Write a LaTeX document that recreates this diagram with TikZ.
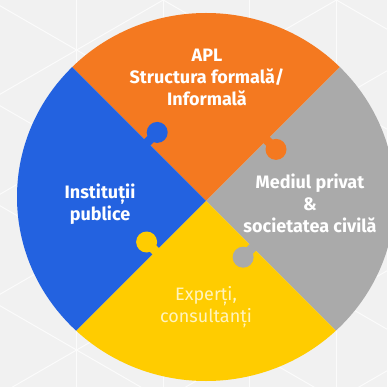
\documentclass[tikz,border=0pt]{standalone}
\usepackage{fontspec}
\setmainfont{Fira Sans}
\definecolor{bgc}{RGB}{241,241,241}
\definecolor{gridc}{RGB}{251,251,251}
\definecolor{org}{RGB}{244,121,32}
\definecolor{blu}{RGB}{35,98,224}
\definecolor{gry}{RGB}{170,170,170}
\definecolor{yel}{RGB}{255,204,0}
\definecolor{ytxt}{RGB}{255,244,190}
\newcommand\knob[7]{%
  \fill[#1] ({206+(#2-4.5)*#3-1*#5},{201+(#2-4.5)*#4-1*#6}) -- ({206+(#2+4.5)*#3-1*#5},{201+(#2+4.5)*#4-1*#6})
    -- ({206+(#2+4.5)*#3+#7*#5},{201+(#2+4.5)*#4+#7*#6}) -- ({206+(#2-4.5)*#3+#7*#5},{201+(#2-4.5)*#4+#7*#6}) -- cycle;
  \fill[#1] ({206+#2*#3+#7*#5},{201+#2*#4+#7*#6}) circle (10.5);
}
\begin{document}
\begin{tikzpicture}[x=1pt,y=-1pt,
  lbl/.style={align=center, text=white, font=\bfseries\fontsize{18}{22}\selectfont, inner sep=0pt},
  grid/.style={gridc, line width=1pt}]
\useasboundingbox (0,0) rectangle (387,387);
\fill[bgc] (0,0) rectangle (387,387);
\begin{scope}
  \clip (0,0) rectangle (387,387);
  \foreach \k in {-4,...,8} {
    \draw[grid] (-10,{\k*100}) -- (400,{\k*100+236.7});
    \draw[grid] (-10,{\k*100}) -- (400,{\k*100-236.7});
  }
  \foreach \m in {0,...,5} \draw[grid] ({-10+86.6*\m},0) -- ++(0,387);
\end{scope}
\begin{scope}
  \clip (206,197) ellipse [x radius=189, y radius=184];
  \fill[org] (206,201) -- (-194,-199) -- (606,-199) -- cycle;
  \fill[blu] (206,201) -- (-194,-199) -- (-194,601) -- cycle;
  \fill[gry] (206,201) -- (606,-199) -- (606,601) -- cycle;
  \fill[yel] (206,201) -- (-194,601) -- (606,601) -- cycle;
\end{scope}
\knob{blu}{83}{-0.7071}{-0.7071}{0.7071}{-0.7071}{14}
\knob{org}{86}{0.7071}{-0.7071}{0.7071}{0.7071}{13}
\knob{yel}{71}{-0.7071}{0.7071}{-0.7071}{-0.7071}{13}
\knob{gry}{66}{0.7071}{0.7071}{-0.7071}{0.7071}{13.5}
\node[lbl] (apl) at (207,77) {APL\\Structura formală/\\Informală};
\node[lbl] (inst) at (100,204) {Instituții\\publice};
\node[lbl] (priv) at (310,203) {Mediul privat\\\&\\societatea civilă};
\node[lbl, font=\fontsize{18}{22}\selectfont, text=ytxt] (exp) at (206,307) {Experți,\\consultanți};
\end{tikzpicture}
\end{document}
